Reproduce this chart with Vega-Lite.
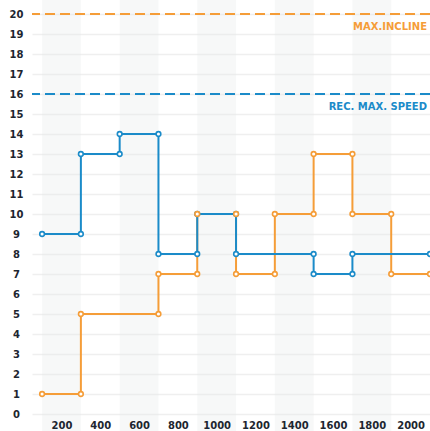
{
  "$schema": "https://vega.github.io/schema/vega-lite/v6.json",
  "width": 398,
  "height": 431,
  "padding": {"left": 32, "top": 0, "right": 0, "bottom": 0},
  "autosize": {"type": "none"},
  "background": "white",
  "config": {
    "view": {"stroke": null},
    "font": "DejaVu Sans",
    "axis": {"labelOverlap": false, "labelFlush": false, "labelBound": false}
  },
  "datasets": {
    "bands": [
      {"start": 100, "end": 300},
      {"start": 500, "end": 700},
      {"start": 900, "end": 1100},
      {"start": 1300, "end": 1500},
      {"start": 1700, "end": 1900}
    ],
    "limits": [
      {"label": "MAX.INCLINE", "v": 20, "series": "incline"},
      {"label": "REC. MAX. SPEED", "v": 16, "series": "speed"}
    ],
    "steps": [
      {"series": "speed", "i": 1, "d": 100, "v": 9},
      {"series": "speed", "i": 2, "d": 300, "v": 9},
      {"series": "speed", "i": 3, "d": 300, "v": 13},
      {"series": "speed", "i": 4, "d": 500, "v": 13},
      {"series": "speed", "i": 5, "d": 500, "v": 14},
      {"series": "speed", "i": 6, "d": 700, "v": 14},
      {"series": "speed", "i": 7, "d": 700, "v": 8},
      {"series": "speed", "i": 8, "d": 900, "v": 8},
      {"series": "speed", "i": 9, "d": 900, "v": 10},
      {"series": "speed", "i": 10, "d": 1100, "v": 10},
      {"series": "speed", "i": 11, "d": 1100, "v": 8},
      {"series": "speed", "i": 12, "d": 1500, "v": 8},
      {"series": "speed", "i": 13, "d": 1500, "v": 7},
      {"series": "speed", "i": 14, "d": 1700, "v": 7},
      {"series": "speed", "i": 15, "d": 1700, "v": 8},
      {"series": "speed", "i": 16, "d": 2100, "v": 8},
      {"series": "incline", "i": 1, "d": 100, "v": 1},
      {"series": "incline", "i": 2, "d": 300, "v": 1},
      {"series": "incline", "i": 3, "d": 300, "v": 5},
      {"series": "incline", "i": 4, "d": 700, "v": 5},
      {"series": "incline", "i": 5, "d": 700, "v": 7},
      {"series": "incline", "i": 6, "d": 900, "v": 7},
      {"series": "incline", "i": 7, "d": 900, "v": 10},
      {"series": "incline", "i": 8, "d": 1100, "v": 10},
      {"series": "incline", "i": 9, "d": 1100, "v": 7},
      {"series": "incline", "i": 10, "d": 1300, "v": 7},
      {"series": "incline", "i": 11, "d": 1300, "v": 10},
      {"series": "incline", "i": 12, "d": 1500, "v": 10},
      {"series": "incline", "i": 13, "d": 1500, "v": 13},
      {"series": "incline", "i": 14, "d": 1700, "v": 13},
      {"series": "incline", "i": 15, "d": 1700, "v": 10},
      {"series": "incline", "i": 16, "d": 1900, "v": 10},
      {"series": "incline", "i": 17, "d": 1900, "v": 7},
      {"series": "incline", "i": 18, "d": 2100, "v": 7}
    ]
  },
  "layer": [
    {
      "data": {"name": "bands"},
      "mark": {"type": "rect", "color": "#e3e8e8", "opacity": 0.3},
      "encoding": {
        "x": {"field": "start", "type": "quantitative", "scale": {"domain": [48, 2100], "nice": false, "zero": false},
          "axis": {"values": [200, 400, 600, 800, 1000, 1200, 1400, 1600, 1800, 2000], "format": "d", "labelOverlap": false, "orient": "bottom", "offset": -6, "domain": false, "ticks": false, "grid": false, "title": null, "labelPadding": 0, "labelBaseline": "middle", "labelFont": "DejaVu Sans", "labelFontWeight": "bold", "labelFontSize": 10, "labelColor": "#1d2630", "zindex": 1}},
        "x2": {"field": "end"}
      }
    },
    {
      "layer": [
        {
          "data": {"name": "limits"},
          "mark": {"type": "rule", "strokeWidth": 2, "strokeDash": [10, 5]},
          "encoding": {
            "color": {"field": "series", "type": "nominal", "scale": {"domain": ["speed", "incline"], "range": ["#1b8bc9", "#f59d38"]}, "legend": null}
          }
        },
        {
          "data": {"name": "limits"},
          "mark": {"type": "text", "align": "right", "baseline": "middle", "dx": -3, "dy": 13, "font": "DejaVu Sans", "fontWeight": "bold", "fontSize": 10},
          "encoding": {
            "x": {"datum": 2100, "type": "quantitative"},
            "text": {"field": "label"},
            "color": {"field": "series", "type": "nominal", "legend": null}
          }
        },
        {
          "data": {"name": "steps"},
          "transform": [{"filter": "datum.series === 'incline'"}],
          "mark": {"type": "line", "strokeWidth": 2, "interpolate": "linear"},
          "encoding": {
            "x": {"field": "d", "type": "quantitative"},
            "order": {"field": "i", "type": "quantitative"},
            "color": {"field": "series", "type": "nominal", "legend": null}
          }
        },
        {
          "data": {"name": "steps"},
          "transform": [{"filter": "datum.series === 'speed'"}],
          "mark": {"type": "line", "strokeWidth": 2, "interpolate": "linear"},
          "encoding": {
            "x": {"field": "d", "type": "quantitative"},
            "order": {"field": "i", "type": "quantitative"},
            "color": {"field": "series", "type": "nominal", "legend": null}
          }
        },
        {
          "data": {"name": "steps"},
          "mark": {"type": "point", "filled": false, "fill": "white", "fillOpacity": 1, "strokeWidth": 1.6, "size": 22, "opacity": 1},
          "encoding": {
            "x": {"field": "d", "type": "quantitative"},
            "color": {"field": "series", "type": "nominal", "legend": null}
          }
        }
      ],
      "encoding": {
        "y": {"field": "v", "type": "quantitative",
          "scale": {"domain": [-0.85, 20.7], "nice": false, "zero": false},
          "axis": {"values": [0,1,2,3,4,5,6,7,8,9,10,11,12,13,14,15,16,17,18,19,20], "format": "d", "labelOverlap": false, "domain": false, "ticks": false, "title": null, "grid": true, "gridColor": "#efefef", "gridWidth": 1.5, "labelAlign": "center", "labelPadding": 16, "labelFont": "DejaVu Sans", "labelFontWeight": "bold", "labelFontSize": 10, "labelColor": "#1d2630"}}
      }
    }
  ]
}
